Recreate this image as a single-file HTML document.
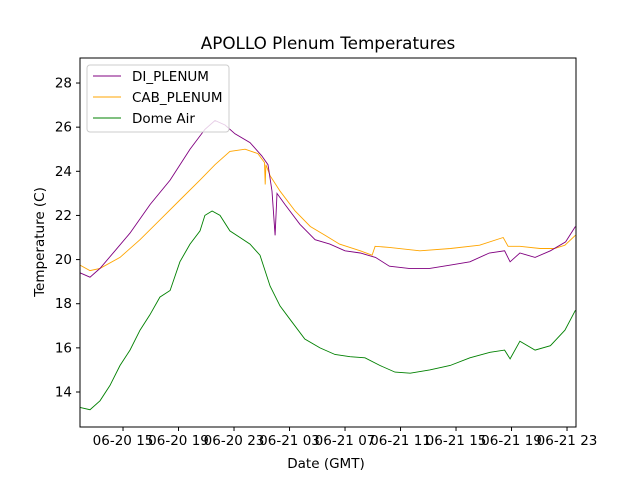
<!DOCTYPE html>
<html><head><meta charset="utf-8"><style>
body{margin:0;background:#fff}
svg text{font-family:"DejaVu Sans","Liberation Sans",sans-serif;fill:#000}
</style></head><body>
<svg width="640" height="480">
<rect width="640" height="480" fill="#fff"/>
<text x="328" y="49" font-size="16.8" text-anchor="middle">APOLLO Plenum Temperatures</text>
<g id="plot"></g>
<rect x="80" y="58" width="496" height="369" fill="none" stroke="#000" stroke-width="1"/>
<g id="xt"></g><g id="yt"></g>
<text x="326" y="468" font-size="13.5" text-anchor="middle">Date (GMT)</text>
<text transform="translate(44,242) rotate(-90)" font-size="13.5" text-anchor="middle">Temperature (C)</text>
<g>
<rect x="87" y="65" width="142" height="67" rx="3" fill="#fff" fill-opacity="0.8" stroke="#ccc"/>
<g><line x1="93" x2="121" y1="76" y2="76" stroke="purple"/><text x="132" y="81" font-size="13.5">DI_PLENUM</text></g>
<g><line x1="93" x2="121" y1="97" y2="97" stroke="orange"/><text x="132" y="102" font-size="13.5">CAB_PLENUM</text></g>
<g><line x1="93" x2="121" y1="118" y2="118" stroke="green"/><text x="132" y="123" font-size="13.5">Dome Air</text></g>
</g>
</svg>
<script>
// hours since 06-20 12:00 GMT
const diHours=[-0.1,0.62,1.34,2.42,3.5,4.96,6.39,7.83,8.9,9.63,10.35,11.07,12.15,13.0,13.45,13.74,13.96,14.1,14.67,15.75,16.84,17.9,19.0,20.1,21.2,22.2,23.6,25.1,26.6,28.0,29.4,30.5,30.9,31.6,32.7,33.8,34.9,35.6];
const diTemps=[19.4,19.2,19.6,20.4,21.2,22.5,23.6,25.0,25.9,26.3,26.1,25.7,25.3,24.7,24.3,23.1,21.1,23.0,22.5,21.6,20.9,20.7,20.4,20.3,20.1,19.7,19.6,19.6,19.75,19.9,20.3,20.4,19.9,20.3,20.1,20.4,20.8,21.5];
const cabHours=[-0.1,0.62,1.34,2.78,4.22,5.66,7.1,8.55,9.63,10.7,11.8,12.72,13.2,13.25,13.3,13.6,14.32,15.4,16.5,17.56,18.6,20.1,20.95,21.17,22.2,24.4,26.6,28.7,30.4,30.75,31.6,33.05,34.1,34.85,35.6];
const cabTemps=[19.75,19.5,19.6,20.1,20.9,21.8,22.7,23.6,24.3,24.9,25.0,24.8,24.4,23.4,24.3,23.8,23.1,22.2,21.5,21.1,20.7,20.4,20.2,20.6,20.55,20.4,20.5,20.65,21.0,20.6,20.6,20.5,20.5,20.65,21.1];
const domeHours=[-0.1,0.62,1.34,2.06,2.78,3.5,4.22,4.94,5.66,6.39,7.1,7.83,8.55,8.9,9.42,9.99,10.7,11.43,12.15,12.87,13.6,14.31,15.03,16.1,17.2,18.28,19.36,20.44,21.52,22.6,23.7,25.1,26.57,28.0,29.45,30.5,30.9,31.6,32.7,33.8,34.85,35.6];
const domeTemps=[13.3,13.2,13.6,14.3,15.2,15.9,16.8,17.5,18.3,18.6,19.9,20.7,21.3,22.0,22.2,22.0,21.3,21.0,20.7,20.2,18.8,17.9,17.3,16.4,16.0,15.7,15.6,15.55,15.2,14.9,14.85,15.0,15.2,15.55,15.8,15.9,15.5,16.3,15.9,16.1,16.8,17.7];
const xTickHours=[3,7,11,15,19,23,27,31,35];
const xTickLabels=["06-20 15","06-20 19","06-20 23","06-21 03","06-21 07","06-21 11","06-21 15","06-21 19","06-21 23"];
const yTicks=[14,16,18,20,22,24,26,28];

const X=h=>81.4+h*13.875, Y=t=>392-(t-14)*22.07;
const NS="http://www.w3.org/2000/svg";
const plot=document.getElementById('plot');
function line(hs,ts,col,name){
  const p=document.createElementNS(NS,'polyline');
  p.setAttribute('points',hs.map((h,i)=>X(h).toFixed(1)+','+Y(ts[i]).toFixed(1)).join(' '));
  p.setAttribute('fill','none');p.setAttribute('stroke',col);p.setAttribute('stroke-width','0.9');
  
  
  plot.appendChild(p);
}
line(cabHours,cabTemps,'orange','cab-plenum-line');
line(diHours,diTemps,'purple','di-plenum-line');
line(domeHours,domeTemps,'green','dome-air-line');
const xt=document.getElementById('xt');
xTickHours.forEach((h,i)=>{
  const x=X(h);
  const l=document.createElementNS(NS,'line');
  l.setAttribute('x1',x);l.setAttribute('x2',x);l.setAttribute('y1',427);l.setAttribute('y2',431);l.setAttribute('stroke','#000');
  
  
  xt.appendChild(l);
  const t=document.createElementNS(NS,'text');
  t.setAttribute('x',x);t.setAttribute('y',445);t.setAttribute('font-size','13.5');t.setAttribute('text-anchor','middle');
  t.textContent=xTickLabels[i];
  
  
  xt.appendChild(t);
});
const yt=document.getElementById('yt');
yTicks.forEach(v=>{
  const y=Y(v);
  const l=document.createElementNS(NS,'line');
  l.setAttribute('x1',76);l.setAttribute('x2',80);l.setAttribute('y1',y);l.setAttribute('y2',y);l.setAttribute('stroke','#000');
  
  
  yt.appendChild(l);
  const t=document.createElementNS(NS,'text');
  t.setAttribute('x',72);t.setAttribute('y',y+4.5);t.setAttribute('font-size','13.5');t.setAttribute('text-anchor','end');
  t.textContent=v;
  
  
  yt.appendChild(t);
});
</script>
</body></html>
